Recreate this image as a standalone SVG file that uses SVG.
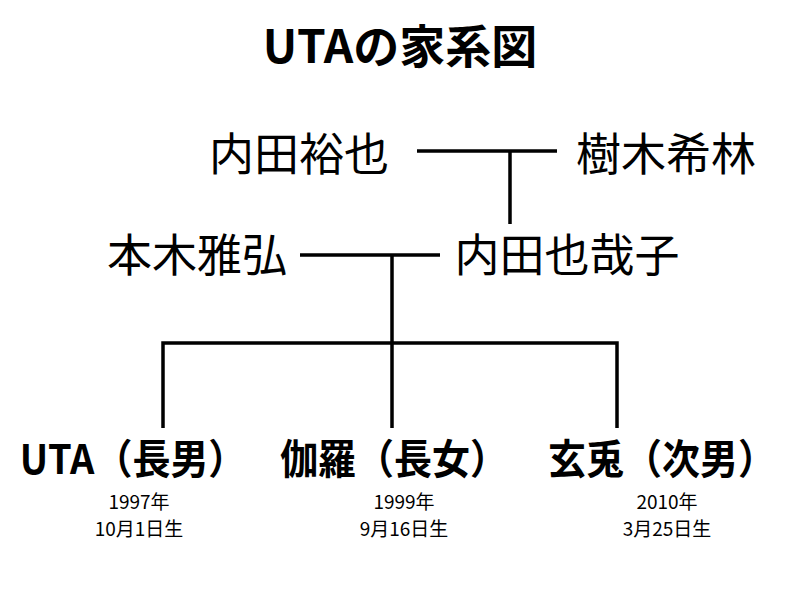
<svg xmlns="http://www.w3.org/2000/svg" width="800" height="600" viewBox="0 0 800 600">
<style>
text{font-family:"Noto Sans CJK JP","Noto Sans",sans-serif;fill:#000}
.title{font-size:46px;font-weight:bold}
.parent{font-size:45px;font-weight:normal}
.child{font-size:38px;font-weight:bold}
.date{font-size:19px}
.ln{stroke:#000;stroke-width:3.5;fill:none}
</style>
<rect width="800" height="600" fill="#fff"/>
<text class="title" x="400" y="63" text-anchor="middle">UTAの家系図</text>
<g id="connectors">
<path class="ln" d="M417 151H557M510 151V224"/>
<path class="ln" d="M300 255H440M392 255V343"/>
<path class="ln" d="M163 428V343H617V428M392 343V428"/>
</g>
<g id="uchida-yuya"><text class="parent" x="299" y="171" text-anchor="middle">内田裕也</text></g>
<g id="kiki-kirin"><text class="parent" x="666" y="171" text-anchor="middle">樹木希林</text></g>
<g id="motoki-masahiro"><text class="parent" x="197" y="272" text-anchor="middle">本木雅弘</text></g>
<g id="uchida-yayako"><text class="parent" x="567" y="272" text-anchor="middle">内田也哉子</text></g>
<g id="uta">
<text class="child" text-anchor="middle" transform="translate(133 474) scale(1 1.08)">UTA（長男）</text>
<text class="date" x="139" y="509" text-anchor="middle">1997年</text>
<text class="date" x="139" y="536" text-anchor="middle">10月1日生</text></g>
<g id="kyara">
<text class="child" text-anchor="middle" transform="translate(394 474) scale(1 1.08)">伽羅（長女）</text>
<text class="date" x="404" y="509" text-anchor="middle">1999年</text>
<text class="date" x="404" y="536" text-anchor="middle">9月16日生</text></g>
<g id="genta">
<text class="child" text-anchor="middle" transform="translate(662 474) scale(1 1.08)">玄兎（次男）</text>
<text class="date" x="667" y="509" text-anchor="middle">2010年</text>
<text class="date" x="667" y="536" text-anchor="middle">3月25日生</text></g>
</svg>
